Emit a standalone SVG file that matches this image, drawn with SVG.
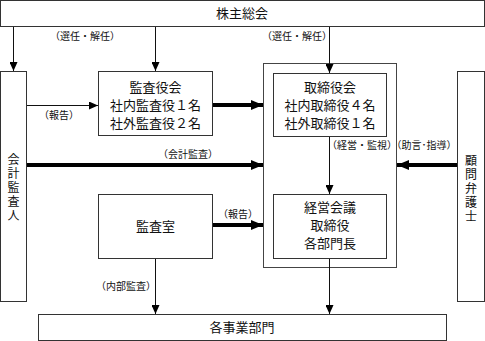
<svg xmlns="http://www.w3.org/2000/svg" width="485" height="341" viewBox="0 0 485 341">
<defs>
<style>
.box{fill:#fff;stroke:#333;stroke-width:1}
.t{font-family:"Noto Sans CJK JP","Liberation Sans",sans-serif;font-size:13px;fill:#111;text-anchor:middle}
.v{font-family:"Noto Sans CJK JP","Liberation Sans",sans-serif;font-size:12px;fill:#111;text-anchor:middle;writing-mode:vertical-rl;letter-spacing:2px}
.l{font-family:"Noto Sans CJK JP","Liberation Sans",sans-serif;font-size:10px;fill:#111;text-anchor:middle}
.thin{stroke:#111;stroke-width:1;fill:none}
.thick{stroke:#000;stroke-width:4;fill:none}
</style>
<marker id="ah" markerWidth="9" markerHeight="8" refX="9" refY="4" orient="auto" markerUnits="userSpaceOnUse">
<path d="M0,0 L9,4 L0,8 Z" fill="#000"/>
</marker>
<marker id="ahk" markerWidth="12" markerHeight="10" refX="12" refY="5" orient="auto" markerUnits="userSpaceOnUse">
<path d="M0,0 L12,5 L0,10 Z" fill="#000"/>
</marker>
</defs>
<rect width="485" height="341" fill="#fff"/>

<g id="kabunushi">
<rect class="box" x="0.5" y="0.5" width="484" height="26"/>
<text class="t" x="242" y="18">株主総会</text>
</g>

<g id="kaikei">
<rect class="box" x="0.5" y="71.5" width="26" height="230"/>
<text class="v" x="13.5" y="188">会計監査人</text>
</g>

<g id="komon">
<rect class="box" x="457.5" y="71.5" width="27" height="230"/>
<text class="v" x="471" y="189">顧問弁護士</text>
</g>

<g id="kansayakukai">
<rect class="box" x="98.5" y="71.5" width="114" height="64"/>
<text class="t"><tspan x="155.5" y="92">監査役会</tspan><tspan x="155.5" y="110">社内監査役１名</tspan><tspan x="155.5" y="128">社外監査役２名</tspan></text>
</g>

<g id="outer">
<rect x="263.5" y="63.5" width="133" height="204" fill="#fff" stroke="#444" stroke-width="1"/>
</g>

<g id="torishimariyakukai">
<rect class="box" x="273.5" y="73.5" width="113" height="63"/>
<text class="t"><tspan x="330" y="92">取締役会</tspan><tspan x="330" y="110">社内取締役４名</tspan><tspan x="330" y="128">社外取締役１名</tspan></text>
</g>

<g id="kansashitsu">
<rect class="box" x="98.5" y="194.5" width="114" height="64"/>
<text class="t" x="155.5" y="231">監査室</text>
</g>

<g id="keieikaigi">
<rect class="box" x="273.5" y="194.5" width="113" height="64"/>
<text class="t"><tspan x="330" y="212">経営会議</tspan><tspan x="330" y="230">取締役</tspan><tspan x="330" y="248">各部門長</tspan></text>
</g>

<g id="jigyobumon">
<rect class="box" x="38.5" y="314.5" width="408" height="26"/>
<text class="t" x="242" y="332">各事業部門</text>
</g>

<g id="connectors">
<line class="thin" x1="13.5" y1="27" x2="13.5" y2="71" marker-end="url(#ah)"/>
<line class="thin" x1="155.5" y1="27" x2="155.5" y2="71" marker-end="url(#ah)"/>
<line class="thin" x1="329.5" y1="27" x2="329.5" y2="73" marker-end="url(#ah)"/>
<line class="thin" x1="27" y1="105.5" x2="98" y2="105.5" marker-end="url(#ah)"/>
<line class="thick" x1="213" y1="105" x2="263" y2="105" marker-end="url(#ahk)"/>
<line class="thick" x1="27" y1="165" x2="263" y2="165" marker-end="url(#ahk)"/>
<line class="thick" x1="457" y1="165" x2="397" y2="165" marker-end="url(#ahk)"/>
<line class="thin" x1="329.5" y1="137" x2="329.5" y2="194" marker-end="url(#ah)"/>
<line class="thick" x1="213" y1="225" x2="263" y2="225" marker-end="url(#ahk)"/>
<line class="thin" x1="155.5" y1="259" x2="155.5" y2="314" marker-end="url(#ah)"/>
<line class="thin" x1="329.5" y1="259" x2="329.5" y2="314" marker-end="url(#ah)"/>
</g>

<g id="labels">
<text class="l" x="85" y="40">（選任・解任）</text>
<text class="l" x="297" y="40">（選任・解任）</text>
<text class="l" x="59" y="119">（報告）</text>
<text class="l" x="188" y="158">（会計監査）</text>
<text class="l" x="362" y="149">（経営・監視）</text>
<text class="l" x="424" y="149">（助言･指導）</text>
<text class="l" x="238" y="218">（報告）</text>
<text class="l" x="126" y="290">（内部監査）</text>
</g>
</svg>
